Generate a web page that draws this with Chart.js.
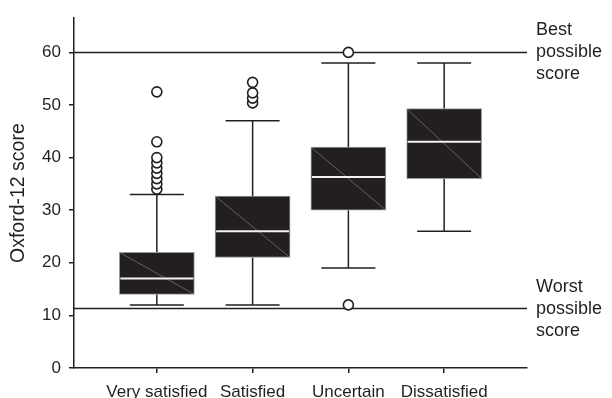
<!DOCTYPE html>
<html lang="en">
<head>
    <meta charset="utf-8">
    <title>Oxford-12 score by satisfaction</title>
    <script src="https://cdn.jsdelivr.net/npm/chart.js"></script>
    <style>
        body {
            margin: 0;
            background: #fff;
        }
        #wrap {
            width: 612px;
            height: 398px;
        }
    </style>
</head>
<body>
<div id="wrap">
    <canvas id="boxChart" width="612" height="398"></canvas>
</div>

<script>
    // categories and box plot summary values
    const categories = ['Very satisfied', 'Satisfied', 'Uncertain', 'Dissatisfied'];
    const q1 = [14, 21, 30, 36];
    const medians = [17, 26, 36.3, 43];
    const q3 = [22, 32.7, 42, 49.3];
    const whiskerLow = [12, 12, 19, 26];
    const whiskerHigh = [33, 47, 58, 58];
    const outliers = [
        [34, 35, 36, 37, 38, 39, 40, 43, 52.5],
        [50.4, 51.3, 52.3, 54.3],
        [12, 60],
        []
    ];
    const yTicks = [0, 10, 20, 30, 40, 50, 60];
    const refLines = [60, 11.3];
    const refLabels = [['Best', 'possible', 'score'], ['Worst', 'possible', 'score']];

    const FONT = '"Liberation Sans", Arial, sans-serif';
    const INK = '#231f20';

    const boxData = categories.map((c, i) => ({ x: i + 1, y: [q1[i], q3[i]] }));
    const outlierData = [];
    outliers.forEach((list, i) => list.forEach(v => outlierData.push({ x: i + 1, y: v })));

    // whiskers, medians, reference lines and side labels
    const boxExtras = {
        id: 'boxExtras',
        beforeDatasetsDraw(chart) {
            const ctx = chart.ctx;
            const xs = chart.scales.x, ys = chart.scales.y;
            const area = chart.chartArea;
            ctx.save();
            ctx.strokeStyle = INK;
            ctx.lineWidth = 1.5;
            refLines.forEach(v => {
                const y = ys.getPixelForValue(v);
                ctx.beginPath();
                ctx.moveTo(area.left, y);
                ctx.lineTo(area.right, y);
                ctx.stroke();
            });
            categories.forEach((c, i) => {
                const x = xs.getPixelForValue(i + 1);
                const capHalf = 27;
                [[q3[i], whiskerHigh[i]], [q1[i], whiskerLow[i]]].forEach(([a, b]) => {
                    const ya = ys.getPixelForValue(a), yb = ys.getPixelForValue(b);
                    ctx.beginPath();
                    ctx.moveTo(x, ya);
                    ctx.lineTo(x, yb);
                    ctx.moveTo(x - capHalf, yb);
                    ctx.lineTo(x + capHalf, yb);
                    ctx.stroke();
                });
            });
            ctx.restore();
        },
        afterDatasetDraw(chart, args) {
            if (args.index !== 0) return;
            const ctx = chart.ctx;
            const ys = chart.scales.y;
            const meta = chart.getDatasetMeta(0);
            ctx.save();
            meta.data.forEach((bar, i) => {
                const half = bar.width / 2;
                const left = bar.x - half, right = bar.x + half;
                const top = ys.getPixelForValue(q3[i]), bottom = ys.getPixelForValue(q1[i]);
                // faint diagonal
                ctx.strokeStyle = 'rgba(150,150,150,0.8)';
                ctx.lineWidth = 0.7;
                ctx.beginPath();
                ctx.moveTo(left, top);
                ctx.lineTo(right, bottom);
                ctx.stroke();
                // median
                const ym = ys.getPixelForValue(medians[i]);
                ctx.strokeStyle = '#f2f2f2';
                ctx.lineWidth = 2;
                ctx.beginPath();
                ctx.moveTo(left + 1, ym);
                ctx.lineTo(right - 1, ym);
                ctx.stroke();
            });
            ctx.restore();
        },
        afterDraw(chart) {
            const ctx = chart.ctx;
            const ys = chart.scales.y;
            const x = chart.chartArea.right + 9;
            ctx.save();
            ctx.fillStyle = INK;
            ctx.font = '18px ' + FONT;
            ctx.textBaseline = 'middle';
            ctx.textAlign = 'left';
            refLines.forEach((v, k) => {
                const y = ys.getPixelForValue(v);
                refLabels[k].forEach((t, j) => ctx.fillText(t, x, y + (j - 1) * 22));
            });
            ctx.restore();
        }
    };

    const ctx = document.getElementById('boxChart').getContext('2d');
    new Chart(ctx, {
        data: {
            datasets: [{
                type: 'bar',
                data: boxData,
                backgroundColor: INK,
                borderColor: '#9a9a9a',
                borderWidth: 1,
                borderSkipped: false,
                barThickness: 75,
                order: 2
            }, {
                type: 'scatter',
                data: outlierData,
                pointStyle: 'circle',
                pointRadius: 5,
                pointBorderWidth: 1.6,
                pointBackgroundColor: '#fff',
                pointBorderColor: INK,
                order: 1
            }]
        },
        options: {
            responsive: false,
            animation: false,
            layout: {
                padding: { left: 0, top: 15, right: 85, bottom: 0 }
            },
            plugins: {
                legend: { display: false },
                tooltip: { enabled: false }
            },
            scales: {
                x: {
                    type: 'linear',
                    offset: false,
                    min: 0.135,
                    max: 4.865,
                    afterBuildTicks: scale => {
                        scale.ticks = categories.map((c, i) => ({ value: i + 1 }));
                    },
                    afterFit: scale => { scale.height = 30; },
                    ticks: {
                        callback: v => categories[v - 1],
                        color: INK,
                        font: { family: FONT, size: 17 },
                        padding: 9,
                        maxRotation: 0,
                        autoSkip: false
                    },
                    grid: { drawOnChartArea: false, offset: false, tickLength: 5, color: INK, lineWidth: 1.5 },
                    border: { color: INK, width: 1.5 }
                },
                y: {
                    min: 0,
                    max: 66.5,
                    afterBuildTicks: scale => {
                        scale.ticks = yTicks.map(v => ({ value: v }));
                    },
                    afterFit: scale => { scale.width = 74; },
                    ticks: {
                        color: INK,
                        font: { family: FONT, size: 17 },
                        padding: 8
                    },
                    title: {
                        display: true,
                        text: 'Oxford-12 score',
                        color: INK,
                        font: { family: FONT, size: 19.5 },
                        padding: { top: 7, bottom: 0 }
                    },
                    grid: { drawOnChartArea: false, tickLength: 5, color: INK, lineWidth: 1.5 },
                    border: { color: INK, width: 1.5 }
                }
            }
        },
        plugins: [boxExtras]
    });
</script>
</body>
</html>
